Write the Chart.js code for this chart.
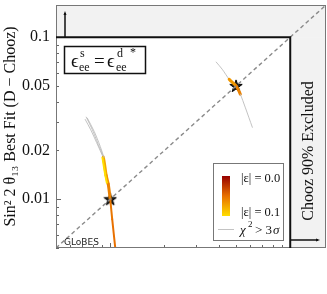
<!DOCTYPE html>
<html>
<head>
<meta charset="utf-8">
<script src="https://cdn.jsdelivr.net/npm/chart.js@4"></script>
<style>
  body { margin: 0; background: #fff; }
  #wrap { width: 327px; height: 294px; }
</style>
</head>
<body>
<div id="wrap"><canvas id="chart"></canvas></div>
<script>
// values
const axisMin = 0.005;
const axisMax = 0.158;
const choozLimit = 0.1;
const yTickValues = [0.01, 0.02, 0.05, 0.1];
const yTickLabels = ['0.01', '0.02', '0.05', '0.1'];

const bestFitX = [0.01, 0.05];
const bestFitY = [0.01, 0.05];

// left curve (true value 0.01); eps = |epsilon|, null = chi2 > 3 sigma
const leftX   = [0.00736, 0.00794, 0.00858, 0.00915, 0.00950, 0.00975, 0.0100, 0.01026, 0.01066];
const leftY   = [0.0321, 0.0270, 0.0218, 0.0182, 0.0140, 0.0124, 0.0100, 0.00753, 0.00505];
const leftEps = [null, null, null, 0.08, 0.07, 0.06, 0.055, 0.05, 0.05];
// yellow edge of the left band
const leftEdgeX = [0.00905, 0.00935, 0.00960];
const leftEdgeY = [0.0182, 0.0145, 0.0125];
const leftGrayBX = [0.00745, 0.00815, 0.00880, 0.00925];
const leftGrayBY = [0.0318, 0.0262, 0.0212, 0.0180];
const leftGrayCX = [0.00725, 0.00780, 0.00840, 0.00905];
const leftGrayCY = [0.0312, 0.0268, 0.0224, 0.0186];

// right curve (true value 0.05)
const rightX   = [0.0388, 0.0419, 0.0458, 0.0500, 0.0528, 0.0562, 0.0616];
const rightY   = [0.0702, 0.0634, 0.0550, 0.0500, 0.0445, 0.0370, 0.0278];
const rightEps = [null, null, 0.075, 0.06, 0.055, null, null];

const grayLine = 'rgba(185,185,185,0.85)';

function epsColor(e) {
  // 0.0 dark red -> 0.05 orange -> 0.1 yellow
  const stops = [[0, [150, 0, 0]], [0.05, [232, 112, 0]], [0.1, [255, 222, 0]]];
  let i = e <= 0.05 ? 0 : 1;
  const t = Math.min(1, Math.max(0, (e - stops[i][0]) / 0.05));
  const c = stops[i][1].map((v, k) => Math.round(v + t * (stops[i + 1][1][k] - v)));
  return `rgb(${c[0]},${c[1]},${c[2]})`;
}

function pts(xs, ys) { return xs.map((x, i) => ({ x: x, y: ys[i] })); }

function curveSegment(eps) {
  return {
    borderColor: c => {
      const a = eps[c.p0DataIndex], b = eps[c.p1DataIndex];
      if (a === null || b === null) return grayLine;
      return epsColor((a + b) / 2);
    },
    borderWidth: c => {
      const a = eps[c.p0DataIndex], b = eps[c.p1DataIndex];
      if (a === null || b === null) return 1;
      return (a + b) / 2 > 0.057 ? 3 : 2;
    }
  };
}

// filled star point
const star = document.createElement('canvas');
star.width = 14; star.height = 14;
(function () {
  const c = star.getContext('2d');
  c.beginPath();
  for (let i = 0; i < 10; i++) {
    const r = i % 2 ? 2.6 : 6.5;
    const a = -Math.PI / 2 + i * Math.PI / 5;
    c.lineTo(7 + r * Math.cos(a), 7.4 + r * Math.sin(a));
  }
  c.closePath();
  c.fillStyle = '#222';
  c.fill();
  c.lineWidth = 1;
  c.strokeStyle = '#000';
  c.stroke();
})();

const serif = "'Liberation Serif', 'DejaVu Serif', serif";

const decorations = {
  id: 'decorations',
  beforeDatasetsDraw(chart) {
    const { ctx, chartArea: a, scales: { x, y } } = chart;
    const xb = x.getPixelForValue(choozLimit), yb = y.getPixelForValue(choozLimit);
    ctx.save();
    ctx.fillStyle = '#f2f2f2';
    ctx.fillRect(a.left, a.top, a.right - a.left, yb - a.top);
    ctx.fillRect(xb, yb, a.right - xb, a.bottom - yb);
    ctx.restore();
  },
  afterDatasetsDraw(chart) {
    const { ctx, chartArea: a, scales: { x, y } } = chart;
    const xb = x.getPixelForValue(choozLimit), yb = y.getPixelForValue(choozLimit);
    ctx.save();

    // log ticks inside the allowed region
    ctx.strokeStyle = '#666';
    ctx.lineWidth = 1;
    for (const d of [0.001, 0.01, 0.1]) {
      for (let k = 1; k <= 9; k++) {
        const v = k * d;
        if (v < axisMin || v >= choozLimit) continue;
        const len = k === 1 ? 5 : 3;
        const px = Math.round(x.getPixelForValue(v)) + 0.5;
        const py = Math.round(y.getPixelForValue(v)) + 0.5;
        ctx.beginPath();
        ctx.moveTo(px, a.bottom); ctx.lineTo(px, a.bottom - len);
        ctx.moveTo(a.left, py); ctx.lineTo(a.left + len, py);
        ctx.stroke();
      }
    }

    // outer frame
    ctx.strokeStyle = '#777';
    ctx.strokeRect(a.left + 0.5, a.top + 0.5, a.right - a.left - 1, a.bottom - a.top - 1);

    // Chooz boundary
    ctx.strokeStyle = '#111';
    ctx.lineWidth = 2;
    ctx.beginPath();
    ctx.moveTo(a.left, yb);
    ctx.lineTo(xb, yb);
    ctx.lineTo(xb, a.bottom);
    ctx.stroke();

    // arrows
    ctx.lineWidth = 1.5;
    const ax = a.left + 9, ay = a.bottom - 8;
    ctx.beginPath();
    ctx.moveTo(ax, yb); ctx.lineTo(ax, a.top + 8);
    ctx.moveTo(xb, ay); ctx.lineTo(a.right - 8, ay);
    ctx.stroke();
    ctx.fillStyle = '#111';
    ctx.beginPath();
    ctx.moveTo(ax, a.top + 6); ctx.lineTo(ax - 1.5, a.top + 10); ctx.lineTo(ax + 1.5, a.top + 10);
    ctx.closePath(); ctx.fill();
    ctx.beginPath();
    ctx.moveTo(a.right - 6, ay); ctx.lineTo(a.right - 10, ay - 1.5); ctx.lineTo(a.right - 10, ay + 1.5);
    ctx.closePath(); ctx.fill();

    // excluded label
    ctx.save();
    ctx.translate((xb + a.right) / 2 + 1, 151);
    ctx.rotate(-Math.PI / 2);
    ctx.font = `16px ${serif}`;
    ctx.textAlign = 'center';
    ctx.textBaseline = 'middle';
    ctx.fillStyle = '#111';
    ctx.fillText('Chooz 90% Excluded', 0, 0);
    ctx.restore();

    // epsilon box
    ctx.lineWidth = 1.5;
    ctx.strokeStyle = '#111';
    ctx.strokeRect(a.left + 8.5, 46.5, 81, 27);
    ctx.fillStyle = '#111';
    ctx.textBaseline = 'alphabetic';
    ctx.textAlign = 'left';
    const bx = a.left + 15;
    ctx.font = `19px ${serif}`;
    ctx.fillText('\u03f5', bx, 67);
    ctx.fillText('=', bx + 23, 67);
    ctx.fillText('\u03f5', bx + 36, 67);
    ctx.font = `12px ${serif}`;
    ctx.fillText('s', bx + 9, 57);
    ctx.fillText('ee', bx + 8, 71);
    ctx.fillText('d', bx + 46, 57);
    ctx.fillText('ee', bx + 45, 71);
    ctx.fillText('*', bx + 59, 56);

    // GLoBES tag
    ctx.font = "9px 'DejaVu Sans', sans-serif";
    ctx.fillStyle = '#222';
    ctx.fillText('GLoBES', a.left + 8, a.bottom - 3);

    // legend
    ctx.fillStyle = '#fff';
    ctx.fillRect(213, 163, 70, 77);
    ctx.lineWidth = 1;
    ctx.strokeStyle = '#777';
    ctx.strokeRect(213.5, 163.5, 70, 77);
    const g = ctx.createLinearGradient(0, 176, 0, 216);
    g.addColorStop(0, epsColor(0));
    g.addColorStop(0.5, epsColor(0.05));
    g.addColorStop(1, epsColor(0.1));
    ctx.fillStyle = g;
    ctx.fillRect(222, 176, 8, 40);
    ctx.fillStyle = '#111';
    ctx.font = `12.5px ${serif}`;
    ctx.fillText('|\u03b5| = 0.0', 241, 182);
    ctx.fillText('|\u03b5| = 0.1', 241, 216);
    ctx.strokeStyle = grayLine;
    ctx.beginPath();
    ctx.moveTo(218, 229.5); ctx.lineTo(234, 229.5);
    ctx.stroke();
    ctx.fillStyle = '#111';
    ctx.font = `italic 13px ${serif}`;
    ctx.fillText('\u03c7', 240, 234);
    ctx.font = `9px ${serif}`;
    ctx.fillText('2', 248, 227);
    ctx.font = `13px ${serif}`;
    ctx.fillText('> 3', 255, 234);
    ctx.font = `italic 13px ${serif}`;
    ctx.fillText('\u03c3', 273, 234);

    ctx.restore();
  }
};

new Chart(document.getElementById('chart'), {
  type: 'line',
  data: {
    datasets: [
      {
        data: pts([axisMin, axisMax], [axisMin, axisMax]),
        borderColor: '#8a8a8a', borderWidth: 1.4, borderDash: [4, 3],
        pointRadius: 0
      },
      { data: pts(leftGrayBX, leftGrayBY), borderColor: grayLine, borderWidth: 1, pointRadius: 0, tension: 0.3 },
      { data: pts(leftGrayCX, leftGrayCY), borderColor: grayLine, borderWidth: 1, pointRadius: 0, tension: 0.3 },
      { data: pts(leftEdgeX, leftEdgeY), borderColor: epsColor(0.1), borderWidth: 2, pointRadius: 0, tension: 0.3 },
      { data: pts(leftX, leftY), segment: curveSegment(leftEps), borderCapStyle: 'round', pointRadius: 0, tension: 0.3 },
      { data: pts(rightX, rightY), segment: curveSegment(rightEps), borderCapStyle: 'round', pointRadius: 0, tension: 0.3 },
      {
        type: 'scatter',
        data: pts(bestFitX, bestFitY),
        pointStyle: star, pointRadius: 7
      }
    ]
  },
  options: {
    responsive: true,
    maintainAspectRatio: false,
    animation: false,
    layout: { autoPadding: false, padding: { top: 5, right: 1, left: 0, bottom: 0 } },
    plugins: { legend: { display: false }, tooltip: { enabled: false } },
    scales: {
      x: {
        type: 'logarithmic',
        min: axisMin, max: axisMax,
        grid: { display: false, drawTicks: false },
        border: { display: false },
        ticks: { display: false },
        afterFit: s => { s.height = 46; s.paddingLeft = 0; s.paddingRight = 0; }
      },
      y: {
        type: 'logarithmic',
        min: axisMin, max: axisMax,
        grid: { display: false, drawTicks: false },
        border: { display: false },
        afterBuildTicks: s => { s.ticks = yTickValues.map(v => ({ value: v })); },
        afterFit: s => { s.width = 56; s.paddingTop = 0; s.paddingBottom = 0; },
        ticks: {
          color: '#111',
          padding: 6,
          font: { family: serif, size: 16 },
          callback: v => yTickLabels[yTickValues.indexOf(v)]
        },
        title: {
          display: true,
          text: 'Sin\u00b2 2 \u03b8\u2081\u2083 Best Fit (D \u2212 Chooz)',
          color: '#111',
          font: { family: serif, size: 16 },
          padding: { top: 1, bottom: 0 }
        }
      }
    }
  },
  plugins: [decorations]
});
</script>
</body>
</html>
